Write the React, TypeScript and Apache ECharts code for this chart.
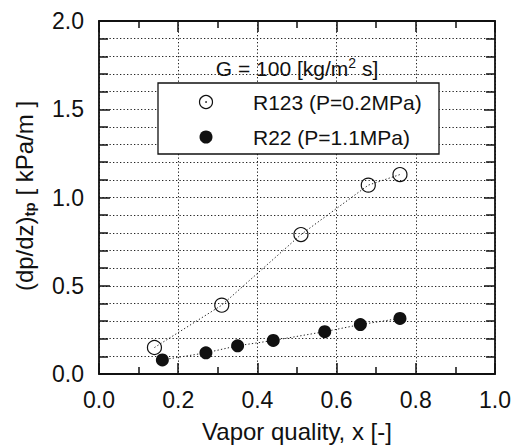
import React, { useEffect, useRef } from "react";
import * as echarts from "echarts";

const xTicks = [0, 0.2, 0.4, 0.6, 0.8, 1.0];
const yTicks = [0, 0.5, 1.0, 1.5, 2.0];
const seriesNames = ["R123 (P=0.2MPa)", "R22 (P=1.1MPa)"];
const r123X = [0.14, 0.31, 0.51, 0.68, 0.76];
const r123Y = [0.15, 0.39, 0.79, 1.07, 1.13];
const r22X = [0.16, 0.27, 0.35, 0.44, 0.57, 0.66, 0.76];
const r22Y = [0.08, 0.12, 0.16, 0.19, 0.24, 0.28, 0.315];
const xTitle = "Vapor quality, x [-]";
const massFlux = "G = 100 [kg/m";

const FONT = "'Liberation Sans', Arial, Helvetica, sans-serif";
const INK = "#111";
const DOT: number[] = [1.3, 2.2];

export default function App() {
  const ref = useRef<HTMLDivElement>(null);
  useEffect(() => {
    if (!ref.current) return;
    const chart = echarts.init(ref.current, undefined, { renderer: "svg" });
    const axisLine = { show: true, onZero: false, lineStyle: { color: INK, width: 1.8 } };
    const xBase = {
      type: "value" as const,
      min: xTicks[0],
      max: xTicks[xTicks.length - 1],
      interval: xTicks[1] - xTicks[0],
      axisLine,
      axisTick: { show: true, inside: true, length: 11, lineStyle: { color: INK, width: 1.5 } },
      minorTick: { show: true, splitNumber: 2, length: 7, lineStyle: { color: INK, width: 1.5 } },
    };
    const yBase = {
      type: "value" as const,
      min: yTicks[0],
      max: yTicks[yTicks.length - 1],
      interval: yTicks[1] - yTicks[0],
      axisLine,
      axisTick: { show: true, inside: true, length: 11, lineStyle: { color: INK, width: 1.5 } },
      minorTick: { show: true, splitNumber: 5, length: 9, lineStyle: { color: INK, width: 1.5 } },
    };
    const gridLine = { show: true, lineStyle: { color: "#222", width: 1, type: DOT } };
    chart.setOption({
      animation: false,
      backgroundColor: "#fff",
      grid: { left: 99, right: 18, top: 21, bottom: 74 },
      xAxis: [
        {
          ...xBase,
          position: "bottom",
          splitLine: gridLine,
          axisLabel: {
            show: true,
            margin: 14,
            fontSize: 23,
            color: INK,
            fontFamily: FONT,
            formatter: (v: number) => v.toFixed(1),
          },
          name: xTitle,
          nameLocation: "middle",
          nameGap: 45,
          nameTextStyle: { fontSize: 24, color: INK, fontFamily: FONT },
        },
        {
          ...xBase,
          position: "top",
          splitLine: { show: false },
          axisLabel: { show: false },
        },
      ],
      yAxis: [
        {
          ...yBase,
          position: "left",
          splitLine: gridLine,
          minorSplitLine: gridLine,
          axisLabel: {
            show: true,
            margin: 15,
            fontSize: 23,
            color: INK,
            fontFamily: FONT,
            formatter: (v: number) => v.toFixed(1),
          },
        },
        {
          ...yBase,
          position: "right",
          splitLine: { show: false },
          axisLabel: { show: false },
        },
      ],
      series: [
        {
          name: seriesNames[0],
          type: "line",
          xAxisIndex: 0,
          yAxisIndex: 0,
          data: r123X.map((x, i) => [x, r123Y[i]]),
          symbol: "circle",
          symbolSize: 14,
          showAllSymbol: true,
          itemStyle: { color: "rgba(255,255,255,0)", borderColor: INK, borderWidth: 1.2 },
          lineStyle: { color: "#222", width: 1, type: DOT },
          z: 3,
        },
        {
          name: seriesNames[1],
          type: "line",
          xAxisIndex: 0,
          yAxisIndex: 0,
          data: r22X.map((x, i) => [x, r22Y[i]]),
          symbol: "circle",
          symbolSize: 13,
          showAllSymbol: true,
          itemStyle: { color: INK, borderColor: INK, borderWidth: 0 },
          lineStyle: { color: "#222", width: 1, type: DOT },
          z: 3,
        },
      ],
      graphic: [
        {
          type: "text",
          x: 24,
          y: 196,
          rotation: Math.PI / 2,
          style: {
            text: "(dp/dz){sub|tp} [ kPa/m ]",
            fontSize: 24,
            fontFamily: FONT,
            fill: INK,
            align: "center",
            verticalAlign: "middle",
            rich: {
              sub: { fontSize: 15, fontWeight: "bold", fontFamily: FONT, fill: INK, padding: [10, 0, 0, 0] },
            },
          },
        },
        {
          type: "text",
          x: 297,
          y: 68,
          z: 10,
          style: {
            text: massFlux + "{sup|2} s]",
            fontSize: 21,
            fontFamily: FONT,
            fill: INK,
            align: "center",
            verticalAlign: "middle",
            rich: {
              sup: { fontSize: 14, fontFamily: FONT, fill: INK, padding: [0, 0, 10, 0] },
            },
          },
        },
        {
          type: "rect",
          z: 10,
          shape: { x: 158, y: 83, width: 281, height: 71 },
          style: { fill: "#fff", stroke: INK, lineWidth: 1.3 },
        },
        {
          type: "circle",
          z: 11,
          shape: { cx: 206, cy: 102, r: 6.5 },
          style: { fill: "#fff", stroke: INK, lineWidth: 1.2 },
        },
        {
          type: "circle",
          z: 11,
          shape: { cx: 206, cy: 102, r: 0.8 },
          style: { fill: INK },
        },
        {
          type: "circle",
          z: 11,
          shape: { cx: 206, cy: 137, r: 6.5 },
          style: { fill: INK },
        },
        {
          type: "text",
          z: 11,
          x: 253,
          y: 102,
          style: { text: seriesNames[0], fontSize: 21, fontFamily: FONT, fill: INK, verticalAlign: "middle" },
        },
        {
          type: "text",
          z: 11,
          x: 253,
          y: 137,
          style: { text: seriesNames[1], fontSize: 21, fontFamily: FONT, fill: INK, verticalAlign: "middle" },
        },
      ],
    });
    return () => chart.dispose();
  }, []);
  return (
    <div
      ref={ref}
      style={{ position: "fixed", left: 0, top: 0, width: 514, height: 448, background: "#fff" }}
    />
  );
}
